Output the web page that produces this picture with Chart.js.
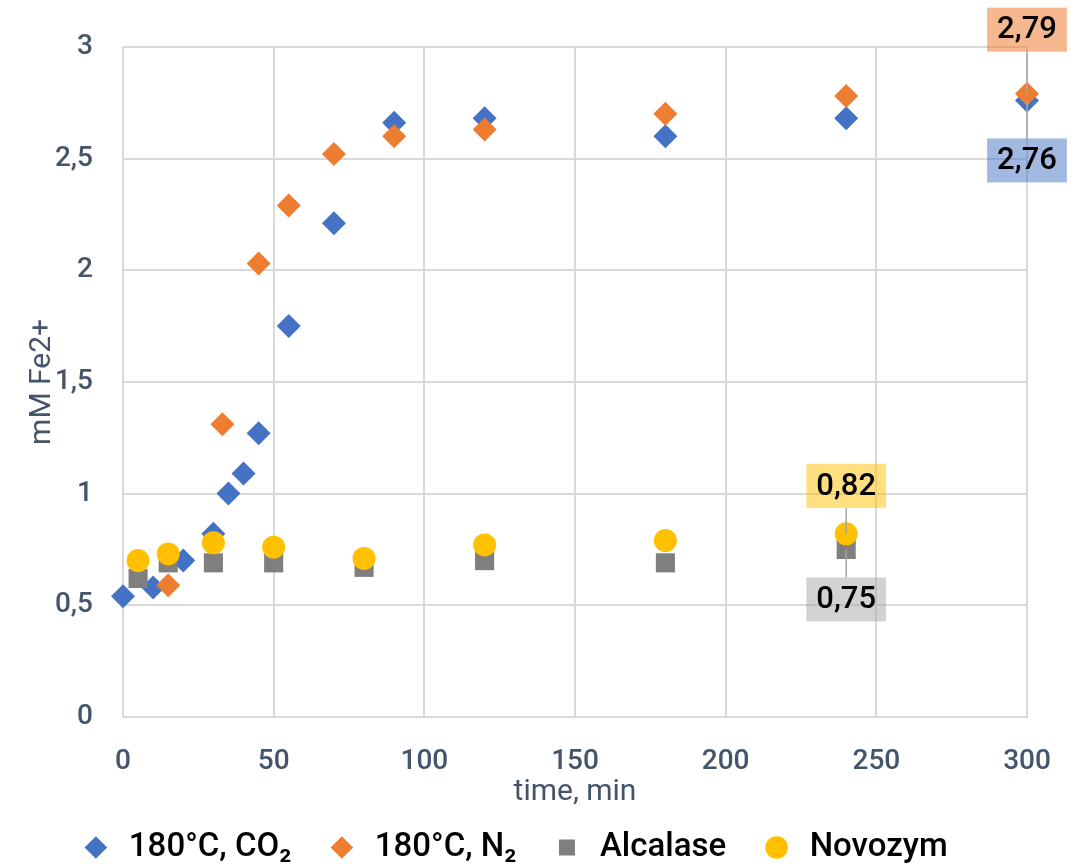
<!DOCTYPE html>
<html>
<head>
<meta charset="utf-8">
<script src="https://cdn.jsdelivr.net/npm/chart.js@4.4.1/dist/chart.umd.min.js"></script>
<style>
html, body { margin: 0; padding: 0; background: #fff; }
#wrap { width: 1074px; height: 866px; }
</style>
</head>
<body>
<div id="wrap"><canvas id="feChart" width="1074" height="866"></canvas></div>
<script>
// time (min) and mM Fe2+
const timeCO2 = [0, 10, 20, 30, 35, 40, 45, 55, 70, 90, 120, 180, 240, 300];
const feCO2 = [0.54, 0.58, 0.70, 0.82, 1.00, 1.09, 1.27, 1.75, 2.21, 2.66, 2.68, 2.60, 2.68, 2.76];
const timeN2 = [15, 33, 45, 55, 70, 90, 120, 180, 240, 300];
const feN2 = [0.59, 1.31, 2.03, 2.29, 2.52, 2.60, 2.63, 2.70, 2.78, 2.79];
const timeEnzyme = [5, 15, 30, 50, 80, 120, 180, 240];
const feAlcalase = [0.62, 0.69, 0.69, 0.69, 0.67, 0.70, 0.69, 0.75];
const feNovozym = [0.70, 0.73, 0.78, 0.76, 0.71, 0.77, 0.79, 0.82];
const seriesNames = ['180°C, CO₂', '180°C, N₂', 'Alcalase', 'Novozym'];

const FONT = 'Roboto, "DejaVu Sans", sans-serif';
const AXIS_COLOR = '#44546A';
const GRID = '#D9D9D9';

const toPoints = (xs, ys) => xs.map((x, i) => ({ x: x, y: ys[i] }));
const comma = v => String(v).replace('.', ',');

// callouts on the last point of each series
const callouts = [
    { ds: 1, dy: -64, bg: 'rgba(237,125,49,0.55)' },
    { ds: 0, dy: 60, bg: 'rgba(68,114,196,0.5)' },
    { ds: 3, dy: -48, bg: 'rgba(255,192,0,0.5)' },
    { ds: 2, dy: 50, bg: 'rgba(165,165,165,0.5)' }
];

const calloutPlugin = {
    id: 'callouts',
    afterDatasetsDraw(chart) {
        const ctx = chart.ctx;
        ctx.save();
        ctx.font = '500 31px ' + FONT;
        ctx.textAlign = 'center';
        ctx.textBaseline = 'middle';
        callouts.forEach(c => {
            const meta = chart.getDatasetMeta(c.ds);
            const data = chart.data.datasets[c.ds].data;
            const el = meta.data[data.length - 1];
            const text = comma(data[data.length - 1].y.toFixed(2));
            const w = ctx.measureText(text).width + 20;
            const h = 44;
            const cx = el.x, cy = el.y + c.dy;
            // leader line
            ctx.strokeStyle = '#A6A6A6';
            ctx.lineWidth = 1.5;
            ctx.beginPath();
            ctx.moveTo(el.x, el.y);
            ctx.lineTo(cx, c.dy < 0 ? cy + h / 2 : cy - h / 2);
            ctx.stroke();
            ctx.fillStyle = c.bg;
            ctx.fillRect(cx - w / 2, cy - h / 2, w, h);
            ctx.fillStyle = '#000';
            ctx.fillText(text, cx, cy + 1);
        });
        ctx.restore();
    }
};

const ctx = document.getElementById('feChart').getContext('2d');
const feChart = new Chart(ctx, {
    type: 'scatter',
    data: {
        datasets: [{
            label: seriesNames[0],
            data: toPoints(timeCO2, feCO2),
            pointStyle: 'rectRot',
            pointRadius: 12,
            pointHoverRadius: 12,
            backgroundColor: '#4472C4',
            borderColor: '#4472C4',
            borderWidth: 0,
            clip: false,
            order: 3
        }, {
            label: seriesNames[1],
            data: toPoints(timeN2, feN2),
            pointStyle: 'rectRot',
            pointRadius: 12,
            pointHoverRadius: 12,
            backgroundColor: '#ED7D31',
            borderColor: '#ED7D31',
            borderWidth: 0,
            clip: false,
            order: 2
        }, {
            label: seriesNames[2],
            data: toPoints(timeEnzyme, feAlcalase),
            pointStyle: 'rect',
            pointRadius: 13.5,
            pointHoverRadius: 13.5,
            backgroundColor: '#7F7F7F',
            borderColor: '#7F7F7F',
            borderWidth: 0,
            clip: false,
            order: 1
        }, {
            label: seriesNames[3],
            data: toPoints(timeEnzyme, feNovozym),
            pointStyle: 'circle',
            pointRadius: 11.5,
            pointHoverRadius: 11.5,
            backgroundColor: '#FFC000',
            borderColor: '#FFC000',
            borderWidth: 0,
            clip: false,
            order: 0
        }]
    },
    options: {
        responsive: false,
        animation: false,
        layout: {
            padding: { top: 44, right: 47, left: 0, bottom: -8 }
        },
        plugins: {
            tooltip: { enabled: false },
            legend: {
                position: 'bottom',
                labels: {
                    usePointStyle: true,
                    boxHeight: 16,
                    padding: 34,
                    color: '#000',
                    font: { size: 33, family: FONT, weight: '500' },
                    sort: (a, b) => a.datasetIndex - b.datasetIndex
                }
            }
        },
        scales: {
            x: {
                type: 'linear',
                min: 0,
                max: 300,
                ticks: {
                    stepSize: 50,
                    padding: 28,
                    color: AXIS_COLOR,
                    font: { size: 28, family: FONT, weight: '500' }
                },
                grid: { color: GRID, lineWidth: 2, drawTicks: false },
                border: { color: GRID, width: 2 },
                title: {
                    display: true,
                    text: 'time, min',
                    color: AXIS_COLOR,
                    font: { size: 30, family: FONT },
                    padding: { top: 0, bottom: -13 }
                },
                afterFit: s => {
                    s.height = 866 + 8 - 717 - s.chart.legend.height;
                    s.paddingRight = 0;
                }
            },
            y: {
                min: 0,
                max: 3,
                ticks: {
                    stepSize: 0.5,
                    padding: 30,
                    color: AXIS_COLOR,
                    font: { size: 28, family: FONT, weight: '500' },
                    callback: v => comma(v)
                },
                grid: { color: GRID, lineWidth: 2, drawTicks: false },
                border: { color: GRID, width: 2 },
                title: {
                    display: true,
                    text: 'mM Fe2+',
                    color: AXIS_COLOR,
                    font: { size: 30, family: FONT },
                    padding: { top: 24, bottom: 0 }
                },
                afterFit: s => { s.width = 123; }
            }
        }
    },
    plugins: [calloutPlugin]
});
</script>
</body>
</html>
